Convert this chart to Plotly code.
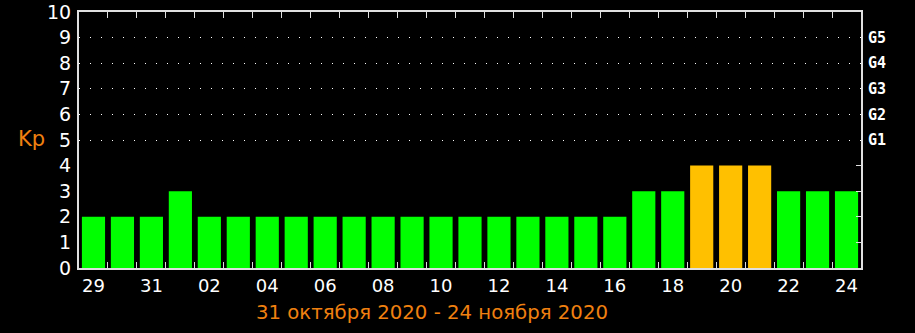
import plotly.graph_objects as go

dates = ["29", "30", "31", "01", "02", "03", "04", "05", "06", "07", "08", "09", "10", "11",
         "12", "13", "14", "15", "16", "17", "18", "19", "20", "21", "22", "23", "24"]
kp = [2, 2, 2, 3, 2, 2, 2, 2, 2, 2, 2, 2, 2, 2, 2, 2, 2, 2, 2, 3, 3, 4, 4, 4, 3, 3, 3]
storm_levels = [5, 6, 7, 8, 9]
storm_labels = ["G1", "G2", "G3", "G4", "G5"]
kp_ticks = list(range(0, 11))
title_text = "31 октября 2020 - 24 ноября 2020"

colors = ["#FFC000" if v >= 4 else "#00FF00" for v in kp]
idx = list(range(len(dates)))
n = len(dates)

fig = go.Figure()
fig.add_trace(go.Bar(x=idx, y=kp, marker=dict(color=colors, line=dict(width=0)),
                     hoverinfo="skip", showlegend=False))
fig.add_trace(go.Scatter(x=[0], y=[0], xaxis="x2", yaxis="y2", mode="markers",
                         marker=dict(opacity=0), showlegend=False, hoverinfo="skip"))

font = "DejaVu Sans, Verdana, sans-serif"
fig.update_layout(
    width=915, height=333,
    margin=dict(l=79, r=54, t=12, b=65, autoexpand=False),
    paper_bgcolor="black", plot_bgcolor="black",
    bargap=0.2,
    xaxis=dict(range=[-0.5, n - 0.5], tickmode="array",
               tickvals=idx[::2], ticktext=dates[::2], automargin=False,
               ticks="", showgrid=False, zeroline=False,
               showline=True, linecolor="#e0e0e0", linewidth=2, mirror=True,
               tickfont=dict(family=font, size=18, color="white")),
    xaxis2=dict(range=[-0.5, n - 0.5], overlaying="x", side="bottom",
                tickmode="array", tickvals=[i + 0.5 for i in idx[:-1]],
                ticks="inside", ticklen=6, tickcolor="#e0e0e0", tickwidth=1,
                mirror="ticks", showticklabels=False, showgrid=False,
                zeroline=False, showline=False, automargin=False),
    yaxis=dict(range=[0, 10], tickmode="array", tickvals=kp_ticks,
               ticktext=[str(v) for v in kp_ticks], automargin=False,
               ticks="", showgrid=False, zeroline=False,
               showline=True, linecolor="#e0e0e0", linewidth=2, mirror=True,
               tickfont=dict(family=font, size=19, color="white"), ticklabelstandoff=2),
    yaxis2=dict(range=[0, 10], overlaying="y", side="right", automargin=False,
                tickmode="array", tickvals=storm_levels, ticktext=storm_labels,
                ticks="", showgrid=True, gridcolor="white", gridwidth=1,
                griddash="1px,10px", zeroline=False, showline=False,
                ticklabelstandoff=6,
                tickfont=dict(family="DejaVu Sans Mono", size=15, color="white",
                              weight="bold"),
                minor=dict(tickmode="array", tickvals=[1, 2, 3, 4], ticks="inside",
                           ticklen=5, tickcolor="#e0e0e0", showgrid=False)),
    annotations=[
        dict(text="Kp", xref="paper", yref="paper", x=-0.041, y=0.505,
             xanchor="right", yanchor="middle", showarrow=False,
             font=dict(family=font, size=21, color="#F08010")),
        dict(text=title_text, xref="paper", yref="paper", x=0.451, y=-0.172,
             xanchor="center", yanchor="middle", showarrow=False,
             font=dict(family=font, size=19.7, color="#F08010")),
    ],
)
fig.write_html("out.html")
